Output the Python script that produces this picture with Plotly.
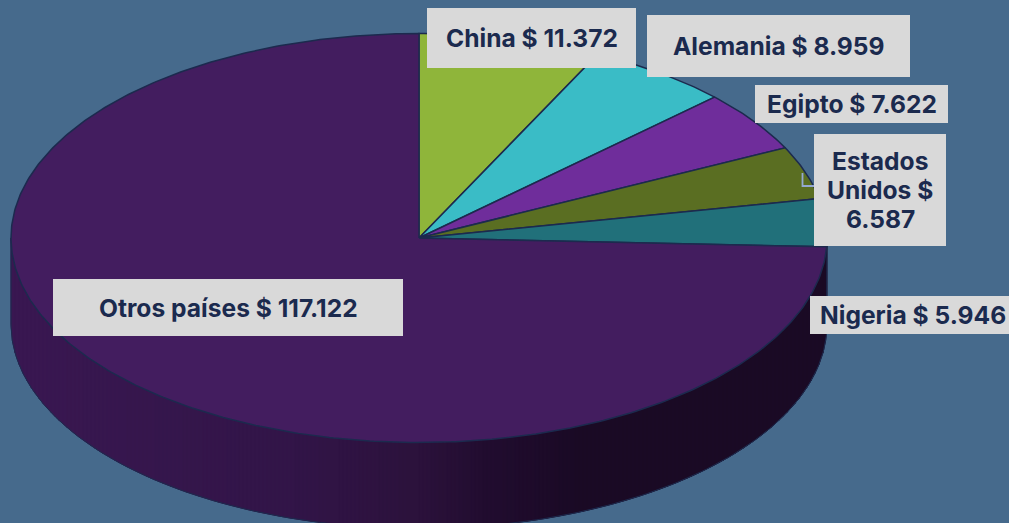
import numpy as np
import plotly.graph_objects as go

W, H = 1009, 523
# data
paises = ["China", "Alemania", "Egipto", "Estados Unidos", "Nigeria", "Otros países"]
valores = [11372, 8959, 7622, 6587, 5946, 117122]
textos = ["China $ 11.372", "Alemania $ 8.959", "Egipto $ 7.622",
          "Estados<br>Unidos $<br>6.587", "Nigeria $ 5.946", "Otros países $ 117.122"]
colores = ["#8fb53a", "#3abcc6", "#6f2d9b", "#5a6e22", "#21707a", "#431d5f"]
# label boxes: left, top, right, bottom in pixels
cajas = [(427, 8, 636, 68), (647, 15, 910, 77), (755, 85, 948, 123),
         (814, 134, 946, 246), (810, 296, 1009, 334), (53, 279, 403, 336)]
# horizontal text offset inside each box, in pixels
desvio = [0, 0, 0, 0, 3, 0]

CX, CY, RX, RY, DEPTH = 419, 238, 408, 204.5, 86
BORDE = "#1c2a4e"
FONDO = "#466a8c"
INTERLINEA = 29

fracs = np.array(valores, dtype=float) / sum(valores)
cortes = np.concatenate([[0], np.cumsum(fracs)]) * 2 * np.pi
prof = DEPTH / RY

fig = go.Figure()

# side wall: horizontal ramp of narrow strips under the front rim
rampa_x = [0, 0.35, 0.5, 0.58, 0.7, 1]
rampa_c = np.array([[58, 24, 82], [50, 21, 72], [44, 18, 60], [34, 13, 48], [26, 10, 37], [26, 10, 37]], dtype=float)
def color_lado(u):
    return "rgb(%d,%d,%d)" % tuple(np.interp(u, rampa_x, rampa_c[:, i]) for i in range(3))

tiras = np.linspace(-1, 1, 205)
for a, b in zip(tiras[:-1], tiras[1:]):
    xs = np.linspace(a, b, 4)
    ys = -np.sqrt(np.clip(1 - xs ** 2, 0, 1))
    col = color_lado(((a + b) / 2 + 1) / 2)
    fig.add_trace(go.Scatter(
        x=np.r_[xs, xs[::-1], xs[0]], y=np.r_[ys, ys[::-1] - prof, ys[0]],
        mode="lines", fill="toself", fillcolor=col, line=dict(color=col, width=1),
        hoverinfo="skip", showlegend=False))

# rim outline of the side wall
t = np.linspace(np.pi / 2, 3 * np.pi / 2, 200)
fig.add_trace(go.Scatter(
    x=np.r_[np.sin(t[0]), np.sin(t), np.sin(t[-1])],
    y=np.r_[np.cos(t[0]), np.cos(t) - prof, np.cos(t[-1])],
    mode="lines", line=dict(color=BORDE, width=1), hoverinfo="skip", showlegend=False))

# top face wedges
for nombre, col, a, b in zip(paises, colores, cortes[:-1], cortes[1:]):
    t = np.linspace(a, b, max(3, int((b - a) * 90)))
    fig.add_trace(go.Scatter(
        x=np.r_[0, np.sin(t), 0], y=np.r_[0, np.cos(t), 0],
        mode="lines", fill="toself", fillcolor=col,
        line=dict(color=BORDE, width=1.5), name=nombre,
        hoverinfo="name", showlegend=False))

# leader line for Estados Unidos
fig.add_shape(type="path", xref="paper", yref="paper",
              path="M %f %f L %f %f L %f %f" % (802.5 / W, 1 - 173 / H, 802.5 / W, 1 - 186 / H, 815 / W, 1 - 186 / H),
              line=dict(color="#94a9d2", width=1.8), layer="above")

for txt, (l, t_, r, b), dx in zip(textos, cajas, desvio):
    fig.add_shape(type="rect", xref="paper", yref="paper", layer="above",
                  x0=l / W, x1=r / W, y0=1 - b / H, y1=1 - t_ / H,
                  fillcolor="#d9d9d9", line=dict(width=0))
    lineas = txt.split("<br>")
    for i, linea in enumerate(lineas):
        py = (t_ + b) / 2 + (i - (len(lineas) - 1) / 2) * INTERLINEA
        fig.add_annotation(
            xref="paper", yref="paper", x=((l + r) / 2 + dx) / W, y=1 - py / H,
            xanchor="center", yanchor="middle", text="<b>%s</b>" % linea, showarrow=False,
            borderpad=0, font=dict(family="Inter", size=24.6, color="#1b2a4e"))

fig.update_layout(
    width=W, height=H, margin=dict(l=0, r=0, t=0, b=0),
    paper_bgcolor=FONDO, plot_bgcolor=FONDO, showlegend=False,
    xaxis=dict(range=[-CX / RX, (W - CX) / RX], visible=False, fixedrange=True),
    yaxis=dict(range=[(CY - H) / RY, CY / RY], visible=False, fixedrange=True))

fig.write_html("out.html", config={"displayModeBar": False},
               post_script="document.body.style.margin='0';document.documentElement.style.overflow='hidden';document.body.style.background='%s';" % FONDO)
